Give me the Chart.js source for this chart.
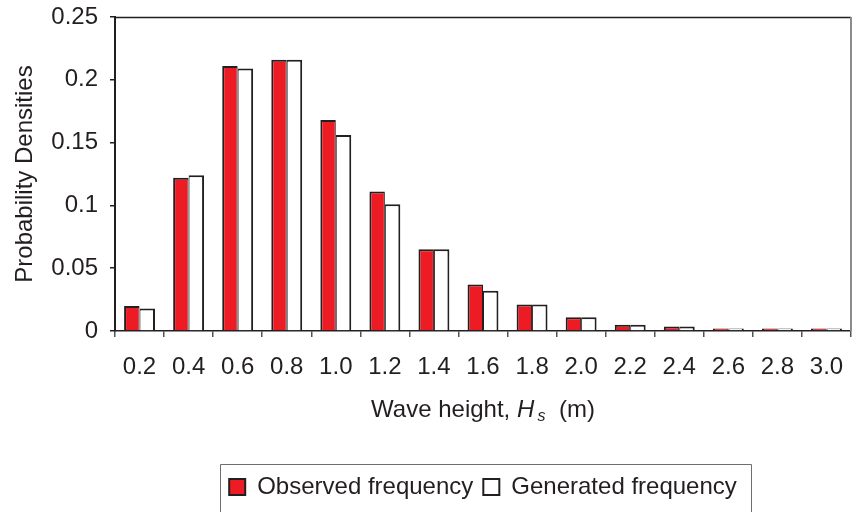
<!DOCTYPE html>
<html>
<head>
<meta charset="utf-8">
<script src="https://cdn.jsdelivr.net/npm/chart.js@4/dist/chart.umd.min.js"></script>
<style>
  html, body { margin: 0; padding: 0; background: #ffffff; }
  #wrap { width: 852px; height: 512px; position: relative; }
</style>
</head>
<body>
<div id="wrap"><canvas id="c" width="852" height="512"></canvas></div>
<script>
const categories = ['0.2','0.4','0.6','0.8','1.0','1.2','1.4','1.6','1.8','2.0','2.2','2.4','2.6','2.8','3.0'];
const observed  = [0.020, 0.122, 0.211, 0.216, 0.168, 0.111, 0.065, 0.037, 0.021, 0.011, 0.005, 0.0035, 0.002, 0.002, 0.002];
const generated = [0.018, 0.124, 0.209, 0.216, 0.156, 0.101, 0.065, 0.032, 0.021, 0.011, 0.005, 0.0035, 0.002, 0.002, 0.002];
const yTickLabels = ['0', '0.05', '0.1', '0.15', '0.2', '0.25'];
const seriesNames = ['Observed frequency', 'Generated frequency'];

const FONT = "'Liberation Sans', Arial, sans-serif";
const INK = '#231f20';

const framePlugin = {
  id: 'frame',
  afterDraw(chart) {
    const {ctx, chartArea: a} = chart;
    ctx.save();
    // top line
    ctx.strokeStyle = INK;
    ctx.lineWidth = 1.5;
    ctx.beginPath();
    ctx.moveTo(a.left, a.top + 0.5);
    ctx.lineTo(a.right, a.top + 0.5);
    ctx.stroke();
    // right line (grey)
    ctx.strokeStyle = '#8c8c8c';
    ctx.lineWidth = 2;
    ctx.beginPath();
    ctx.moveTo(a.right, a.top);
    ctx.lineTo(a.right, a.bottom);
    ctx.stroke();

    // x-axis title with italic H and subscript s
    const cx = (a.left + a.right) / 2;
    const baseY = 417;
    const parts = [
      {t: 'Wave height, ', f: "24px " + FONT, dy: 0},
      {t: 'H', f: "italic 24px " + FONT, dy: 0},
      {t: ' ', f: "12px " + FONT, dy: 0},
      {t: 's', f: "italic 16px " + FONT, dy: 4},
      {t: '  (m)', f: "24px " + FONT, dy: 0}
    ];
    let total = 0;
    parts.forEach(p => { ctx.font = p.f; p.w = ctx.measureText(p.t).width; total += p.w; });
    let x = cx - total / 2;
    ctx.fillStyle = INK;
    ctx.textBaseline = 'alphabetic';
    ctx.textAlign = 'left';
    parts.forEach(p => { ctx.font = p.f; ctx.fillText(p.t, x, baseY + p.dy); x += p.w; });

    // legend border
    const lg = chart.legend;
    if (lg && lg.legendHitBoxes && lg.legendHitBoxes.length) {
      const hb = lg.legendHitBoxes;
      const l = hb[0].left - 9;
      const r = hb[hb.length - 1].left + hb[hb.length - 1].width + 14;
      const top = lg.top - 1;
      ctx.strokeStyle = '#6e6e6e';
      ctx.lineWidth = 1;
      ctx.beginPath();
      ctx.moveTo(Math.round(l) + 0.5, 514);
      ctx.lineTo(Math.round(l) + 0.5, Math.round(top) + 0.5);
      ctx.lineTo(Math.round(r) + 0.5, Math.round(top) + 0.5);
      ctx.lineTo(Math.round(r) + 0.5, 514);
      ctx.stroke();
    }
    ctx.restore();
  }
};

new Chart(document.getElementById('c'), {
  type: 'bar',
  data: {
    labels: categories,
    datasets: [
      {
        label: seriesNames[0],
        data: observed,
        backgroundColor: '#ed1c24',
        borderColor: INK,
        borderWidth: {top: 2, left: 2, right: 1, bottom: 0},
        borderSkipped: 'start'
      },
      {
        label: seriesNames[1],
        data: generated,
        backgroundColor: '#ffffff',
        borderColor: INK,
        borderWidth: {top: 2, left: 1, right: 2, bottom: 0},
        borderSkipped: 'start'
      }
    ]
  },
  options: {
    responsive: false,
    animation: false,
    devicePixelRatio: 1,
    categoryPercentage: 0.63,
    barPercentage: 1.0,
    layout: { padding: { top: 17, right: 1, left: 0, bottom: 3 } },
    plugins: {
      tooltip: { enabled: false },
      legend: {
        position: 'bottom',
        align: 'center',
        fullSize: false,
        labels: {
          font: { family: FONT, size: 24 },
          color: INK,
          boxWidth: 16,
          boxHeight: 16,
          padding: 10,
          generateLabels(chart) {
            const items = Chart.defaults.plugins.legend.labels.generateLabels(chart);
            items.forEach(it => { it.lineWidth = 2; it.strokeStyle = INK; });
            return items;
          }
        }
      }
    },
    scales: {
      x: {
        afterFit(scale) { scale.height = 134; scale.paddingLeft = 0; scale.paddingRight = 0; },
        grid: {
          display: true,
          drawOnChartArea: false,
          drawTicks: true,
          tickLength: 6,
          color: '#555555',
          lineWidth: 1.5,
          offset: true
        },
        border: { display: true, color: INK, width: 1.5 },
        ticks: {
          font: { family: FONT, size: 24 },
          color: INK,
          padding: 16,
          maxRotation: 0,
          autoSkip: false
        }
      },
      y: {
        min: 0,
        max: 0.25,
        afterFit(scale) { scale.width = 115; scale.paddingTop = 0; scale.paddingBottom = 0; },
        grid: {
          display: true,
          drawOnChartArea: false,
          drawTicks: true,
          tickLength: 5,
          color: INK,
          lineWidth: 1.5
        },
        border: { display: true, color: INK, width: 2 },
        ticks: {
          stepSize: 0.05,
          font: { family: FONT, size: 24 },
          color: INK,
          padding: 12,
          callback(v, i) { return yTickLabels[i]; }
        },
        title: {
          display: true,
          text: 'Probability Densities',
          font: { family: FONT, size: 24 },
          color: INK,
          padding: { top: 11, bottom: 0 }
        }
      }
    }
  },
  plugins: [framePlugin]
});
</script>
</body>
</html>
